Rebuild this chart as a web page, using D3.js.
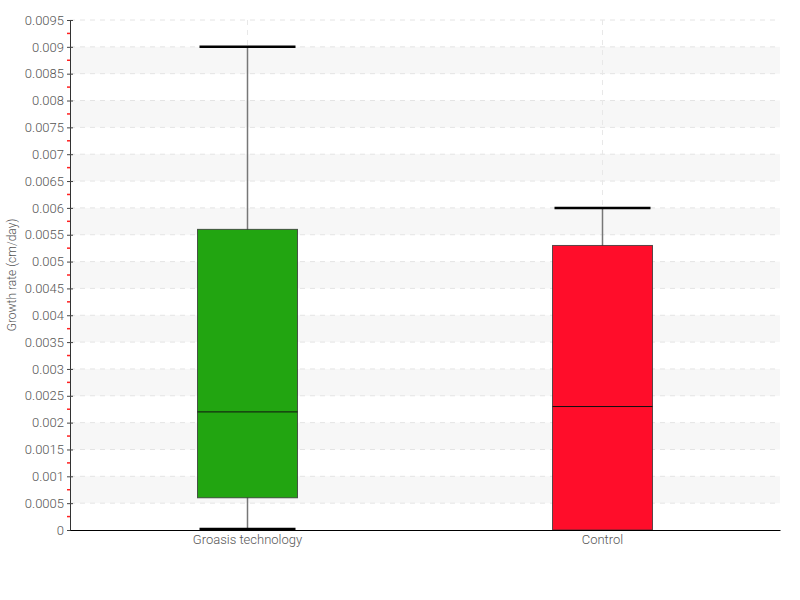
<!DOCTYPE html>
<html>
<head>
<meta charset="utf-8">
<script src="https://cdn.jsdelivr.net/npm/d3@7"></script>
<style>
  body { margin: 0; background: #fff; }
  text { font-family: "Roboto", "Liberation Sans Narrow", sans-serif; font-weight: 300; }
</style>
</head>
<body>
<div id="chart"></div>
<script>
var width = 800;
var height = 600;

// data
var categories = ['Groasis technology', 'Control'];
var whiskerHigh = [0.009, 0.006];
var q3 = [0.0056, 0.0053];
var medians = [0.0022, 0.0023];
var q1 = [0.0006, 0];
var whiskerLow = [0, 0];
var boxColors = ['#22a511', '#ff0d2a'];
var yTicks = d3.range(0, 0.00951, 0.0005);

var margin = {top: 20, right: 20, bottom: 70, left: 70};
var plotW = width - margin.left - margin.right;
var plotH = height - margin.top - margin.bottom;

var svg = d3.select('#chart').append('svg')
    .attr('width', width)
    .attr('height', height)
    .append('g')
    .attr('transform', 'translate(' + margin.left + ',' + margin.top + ')');

var x = d3.scaleBand().domain(categories).range([0, plotW]);
var y = d3.scaleLinear().domain([0, 0.0095]).range([plotH, 0]);

// alternating bands
svg.selectAll('rect.band')
    .data(yTicks.filter(function(d, i){ return i % 2 == 1 && i < yTicks.length - 1; }))
    .enter().append('rect')
        .attr('class', 'band')
        .attr('x', 0)
        .attr('width', plotW)
        .attr('y', function(d){ return y(d + 0.0005); })
        .attr('height', function(d){ return y(d) - y(d + 0.0005); })
        .attr('fill', '#f7f7f7');

// grid
svg.selectAll('line.hgrid')
    .data(yTicks.slice(1)).enter().append('line')
        .attr('x1', 0).attr('x2', plotW)
        .attr('y1', function(d){ return y(d); })
        .attr('y2', function(d){ return y(d); })
        .attr('stroke', '#e4e4e4')
        .attr('stroke-dasharray', '5,5');

svg.selectAll('line.vgrid')
    .data(categories).enter().append('line')
        .attr('x1', function(d){ return x(d) + x.bandwidth() / 2; })
        .attr('x2', function(d){ return x(d) + x.bandwidth() / 2; })
        .attr('y1', 0).attr('y2', plotH)
        .attr('stroke', '#e8e8e8')
        .attr('stroke-dasharray', '5,5');

// boxes
var boxW = 100;
var capW = 96;
var groups = svg.selectAll('g.box')
    .data(categories).enter().append('g')
        .attr('class', 'box')
        .attr('transform', function(d){ return 'translate(' + (x(d) + x.bandwidth() / 2) + ',0)'; });

groups.append('line')
    .attr('x1', 0).attr('x2', 0)
    .attr('y1', function(d, i){ return y(whiskerHigh[i]); })
    .attr('y2', function(d, i){ return y(whiskerLow[i]); })
    .attr('stroke', '#777')
    .attr('stroke-width', 1.5);

groups.selectAll('line.cap')
    .data(function(d, i){ return [whiskerHigh[i], whiskerLow[i]]; })
    .enter().append('line')
        .attr('class', 'cap')
        .attr('x1', -capW / 2).attr('x2', capW / 2)
        .attr('y1', function(d){ return y(d) - (d == 0 ? 1 : 0); })
        .attr('y2', function(d){ return y(d) - (d == 0 ? 1 : 0); })
        .attr('stroke', '#000')
        .attr('stroke-width', 2.5);

groups.append('rect')
    .attr('x', -boxW / 2)
    .attr('width', boxW)
    .attr('y', function(d, i){ return y(q3[i]); })
    .attr('height', function(d, i){ return y(q1[i]) - y(q3[i]); })
    .attr('fill', function(d, i){ return boxColors[i]; })
    .attr('stroke', '#333')
    .attr('stroke-opacity', 0.8)
    .attr('stroke-width', 1);

groups.append('line')
    .attr('x1', -boxW / 2).attr('x2', boxW / 2)
    .attr('y1', function(d, i){ return y(medians[i]); })
    .attr('y2', function(d, i){ return y(medians[i]); })
    .attr('stroke', '#111')
    .attr('stroke-width', 1);

// axes
var yAxis = svg.append('g')
    .call(d3.axisLeft(y).tickValues(yTicks).tickSize(3).tickPadding(3)
        .tickFormat(function(d){ return +d.toFixed(4) + ''; }));
yAxis.select('.domain').attr('stroke', '#333');
yAxis.selectAll('.tick line').attr('x2', 3).attr('x1', -3).attr('stroke', '#444');
yAxis.selectAll('.tick text').attr('fill', '#555').style('font-size', '13px');

// minor ticks
svg.selectAll('line.minor')
    .data(yTicks.slice(0, -1).map(function(d){ return d + 0.00025; }))
    .enter().append('line')
        .attr('x1', -3).attr('x2', 0)
        .attr('y1', function(d){ return y(d); })
        .attr('y2', function(d){ return y(d); })
        .attr('stroke', '#ff2020')
        .attr('stroke-width', 1.5);

var xAxis = svg.append('g')
    .attr('transform', 'translate(0,' + plotH + ')')
    .call(d3.axisBottom(x).tickSize(0).tickPadding(5));
xAxis.select('.domain').attr('stroke', '#000');
xAxis.selectAll('.tick text').attr('fill', '#555').style('font-size', '13px');

svg.append('text')
    .attr('transform', 'translate(-54,' + (plotH / 2) + ') rotate(-90)')
    .attr('text-anchor', 'middle')
    .attr('fill', '#555')
    .style('font-size', '12px')
    .text('Growth rate (cm/day)');
</script>
</body>
</html>
